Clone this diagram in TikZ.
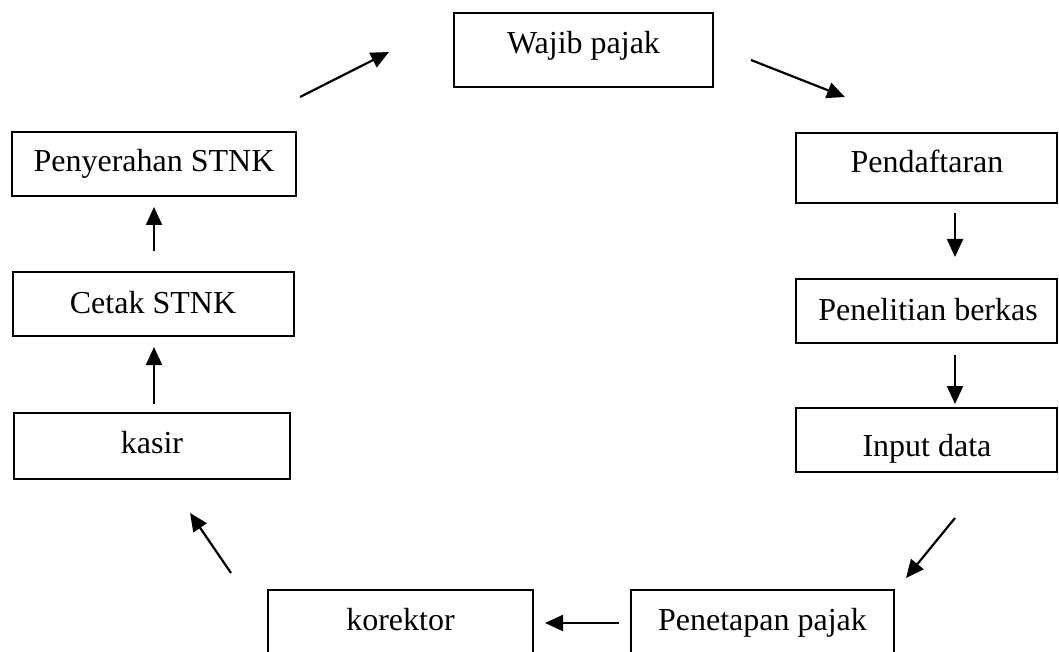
\documentclass[tikz,border=0pt]{standalone}
\usepackage{fontspec}
\setmainfont{Liberation Serif}
\usetikzlibrary{arrows.meta,fit}
\begin{document}
\begin{tikzpicture}[x=0.5pt,y=-0.5pt,
  box/.style={draw,line width=0.85pt,inner sep=0pt,rectangle},
  lbl/.style={anchor=base,inner sep=0pt,font=\fontsize{16}{19}\selectfont},
  arr/.style={line width=1.1pt,-{Triangle[length=9pt,width=8pt]}}]
\clip (0,0) rectangle (1059,652);
% boxes
\node[box,fit={(454,13) (713,87)}] (wajib) {};
\node[box,fit={(796,133) (1057,203)}] (daftar) {};
\node[box,fit={(796,279) (1057,343)}] (teliti) {};
\node[box,fit={(796,408) (1057,472)}] (input) {};
\node[box,fit={(631,590) (894,670)}] (tetap) {};
\node[box,fit={(268,590) (533,670)}] (korek) {};
\node[box,fit={(14,413) (290,479)}] (kasir) {};
\node[box,fit={(13,272) (294,336)}] (cetak) {};
\node[box,fit={(12,132) (296,196)}] (serah) {};
% labels
\node[lbl] (wajibT) at (583.5,54) {Wajib pajak};
\node[lbl] (daftarT) at (927,173) {Pendaftaran};
\node[lbl] (telitiT) at (928,320) {Penelitian berkas};
\node[lbl] (inputT) at (927,456) {Input data};
\node[lbl] (tetapT) at (762.5,630) {Penetapan pajak};
\node[lbl] (korekT) at (400.5,630) {korektor};
\node[lbl] (kasirT) at (152,453) {kasir};
\node[lbl] (cetakT) at (153,313) {Cetak STNK};
\node[lbl] (serahT) at (154,172) {Penyerahan STNK};
% arrow endpoints
\coordinate (a1s) at (300,97);  \coordinate (a1e) at (389,52);
\coordinate (a2s) at (751,60);  \coordinate (a2e) at (845,97);
\coordinate (a3s) at (955,213); \coordinate (a3e) at (955,257);
\coordinate (a4s) at (955,355); \coordinate (a4e) at (955,404);
\coordinate (a5s) at (955,518); \coordinate (a5e) at (906,578);
\coordinate (a6s) at (619,623); \coordinate (a6e) at (545,623);
\coordinate (a7s) at (231,573); \coordinate (a7e) at (190,513);
\coordinate (a8s) at (154,404); \coordinate (a8e) at (154,347);
\coordinate (a9s) at (154,251); \coordinate (a9e) at (154,207);
\draw[arr] (a1s) -- (a1e);
\draw[arr] (a2s) -- (a2e);
\draw[arr] (a3s) -- (a3e);
\draw[arr] (a4s) -- (a4e);
\draw[arr] (a5s) -- (a5e);
\draw[arr] (a6s) -- (a6e);
\draw[arr] (a7s) -- (a7e);
\draw[arr] (a8s) -- (a8e);
\draw[arr] (a9s) -- (a9e);
\end{tikzpicture}
\end{document}
